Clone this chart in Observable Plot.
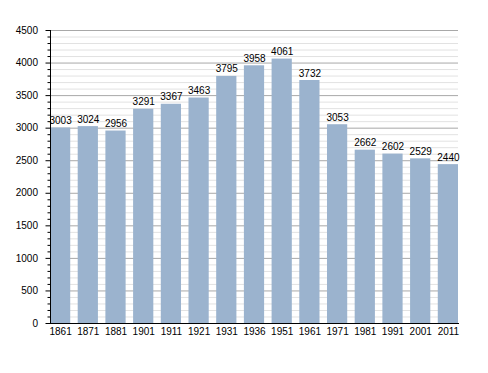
<!DOCTYPE html>
<html>
<head>
<meta charset="utf-8">
<script src="https://cdn.jsdelivr.net/npm/d3@7"></script>
<script src="https://cdn.jsdelivr.net/npm/@observablehq/plot@0.6"></script>
<style>
  html, body { margin: 0; padding: 0; background: #fff; }
  svg { display: block; }
</style>
</head>
<body>
<div id="chart"></div>
<script>
const years = ["1861","1871","1881","1901","1911","1921","1931","1936","1951","1961","1971","1981","1991","2001","2011"];
const population = [3003,3024,2956,3291,3367,3463,3795,3958,4061,3732,3053,2662,2602,2529,2440];
const majorTicks = [0,500,1000,1500,2000,2500,3000,3500,4000,4500];
const minorTicks = d3.range(0, 4501, 100).filter(v => v % 500 !== 0);

const data = years.map((y, i) => ({year: y, value: population[i]}));

const chart = Plot.plot({
  width: 488,
  height: 373,
  marginTop: 30,
  marginBottom: 50,
  marginLeft: 50,
  marginRight: 30,
  style: {fontFamily: "'Liberation Sans', Arial, sans-serif", fontSize: "10px", color: "#000", background: "#fff"},
  x: {domain: years, paddingInner: 0.27, paddingOuter: 0, align: 0.5, round: false, label: null},
  y: {domain: [0, 4500], label: null},
  marks: [
    Plot.ruleY(minorTicks, {stroke: "#e2e2e2", strokeWidth: 1}),
    Plot.ruleY(majorTicks, {stroke: "#a8a8a8", strokeWidth: 1}),
    Plot.barY(data, {x: "year", y: "value", fill: "#9bb3ce"}),
    Plot.text(data, {x: "year", y: "value", text: d => String(d.value), lineAnchor: "bottom", dy: -4, fill: "#000", fontSize: 10}),
    Plot.axisY({ticks: minorTicks, tickSize: 2.5, tickFormat: () => "", stroke: "#000"}),
    Plot.axisY({ticks: majorTicks, tickSize: 4.5, tickPadding: 8, tickFormat: d => String(d), stroke: "#000", fill: "#000"}),
    Plot.axisX({tickSize: 0, tickPadding: 4, fill: "#000"}),
    Plot.frame({anchor: "left", stroke: "#000"}),
    Plot.frame({anchor: "bottom", stroke: "#000"})
  ]
});
document.getElementById("chart").appendChild(chart);
</script>
</body>
</html>
